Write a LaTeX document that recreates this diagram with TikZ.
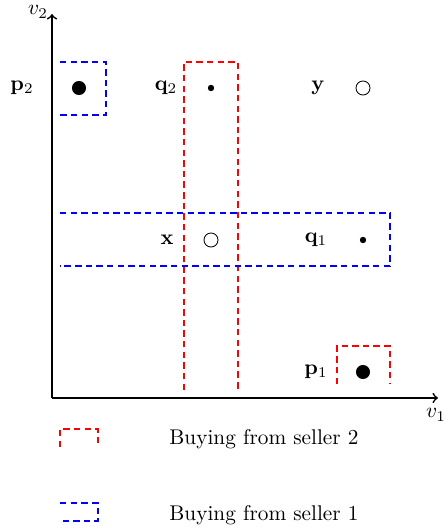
\documentclass[tikz,border=0pt]{standalone}
\usepackage{amsmath}
\begin{document}
\begin{tikzpicture}[x=0.47pt,y=-0.47pt,
  axis/.style={line width=0.8pt,->},
  redbox/.style={draw=red,line width=0.9pt,dash pattern=on 3pt off 2pt},
  bluebox/.style={draw=blue,line width=0.9pt,dash pattern=on 3pt off 2pt},
  bigdot/.style={circle,fill=black,inner sep=0pt,minimum size=6.6pt},
  smalldot/.style={circle,fill=black,inner sep=0pt,minimum size=3pt},
  opendot/.style={circle,draw=black,line width=0.4pt,inner sep=0pt,minimum size=6.6pt},
  lbl/.style={inner sep=0pt}]
\useasboundingbox (0,0) rectangle (447,530);
% axes
\coordinate (O) at (52,398);
\coordinate (ytop) at (52,14);
\coordinate (xend) at (438,398);
\draw[axis] (O) -- (ytop);
\draw[axis] (O) -- (xend);
\node[lbl] (v2) at (38,12) {$v_2$};
\node[lbl] (v1) at (436,415) {$v_1$};
% boxes
\draw[bluebox] (60,62) -- (106,62) -- (106,115) -- (60,115);
\draw[redbox] (184,390) -- (184,62) -- (238,62) -- (238,390);
\draw[bluebox] (60,213) -- (390,213) -- (390,266) -- (60,266);
\draw[redbox] (337,384) -- (337,346) -- (390,346) -- (390,384);
% points
\node[bigdot] (p2) at (79,88) {};
\node[lbl] (p2l) at (22,88) {$\mathbf{p}_2$};
\node[smalldot] (q2) at (211,88) {};
\node[lbl] (q2l) at (166,88) {$\mathbf{q}_2$};
\node[opendot] (y) at (363,88) {};
\node[lbl] (yl) at (318,88) {$\mathbf{y}$};
\node[opendot] (x) at (211,240) {};
\node[lbl] (xl) at (167,240) {$\mathbf{x}$};
\node[smalldot] (q1) at (363,240) {};
\node[lbl] (q1l) at (316,240) {$\mathbf{q}_1$};
\node[bigdot] (p1) at (363,372) {};
\node[lbl] (p1l) at (316,372) {$\mathbf{p}_1$};
% legend
\draw[redbox] (60,447) -- (60,429) -- (98,429) -- (98,447);
\node[lbl,anchor=west] (leg2) at (169,439) {Buying from seller 2};
\draw[bluebox] (60,503) -- (98,503) -- (98,521) -- (60,521);
\node[lbl,anchor=west] (leg1) at (169,515) {Buying from seller 1};
\end{tikzpicture}
\end{document}
